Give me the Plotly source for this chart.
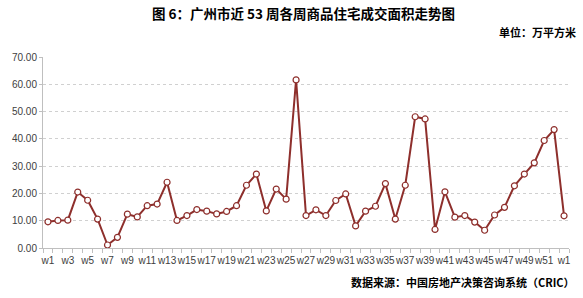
import plotly.graph_objects as go

weeks = ["w1", "w2", "w3", "w4", "w5", "w6", "w7", "w8", "w9", "w10",
         "w11", "w12", "w13", "w14", "w15", "w16", "w17", "w18", "w19", "w20",
         "w21", "w22", "w23", "w24", "w25", "w26", "w27", "w28", "w29", "w30",
         "w31", "w32", "w33", "w34", "w35", "w36", "w37", "w38", "w39", "w40",
         "w41", "w42", "w43", "w44", "w45", "w46", "w47", "w48", "w49", "w50",
         "w51", "w52", "w1"]
area = [9.6, 10.1, 10.2, 20.5, 17.5, 10.6, 1.1, 3.9, 12.4, 11.4,
        15.5, 16.1, 24.1, 10.1, 11.9, 14.1, 13.5, 12.5, 13.4, 15.5,
        23.0, 27.1, 13.6, 21.6, 17.9, 61.6, 11.9, 14.0, 11.9, 17.4,
        19.8, 8.1, 13.5, 15.3, 23.6, 10.6, 23.0, 48.1, 47.3, 6.8,
        20.6, 11.3, 11.9, 9.5, 6.5, 12.1, 14.9, 22.8, 27.1, 31.2,
        39.4, 43.4, 11.8]
y_ticks = [0, 10, 20, 30, 40, 50, 60, 70]

title_text = "图 6：广州市近 53 周各周商品住宅成交面积走势图"
unit_text = "单位：万平方米"
source_text = "数据来源：中国房地产决策咨询系统（CRIC）"

idx = list(range(len(area)))
line_color = "#8E2F2C"
cjk = "Noto Sans CJK SC"
latin = "Liberation Sans, Arial"

fig = go.Figure()
fig.add_trace(go.Scatter(
    x=idx, y=area, mode="lines+markers",
    line=dict(color=line_color, width=2),
    marker=dict(size=6, color="white", line=dict(color=line_color, width=1.2)),
    hoverinfo="x+y",
))

fig.update_layout(
    width=583, height=298,
    margin=dict(l=37, r=13, t=57, b=50),
    paper_bgcolor="white", plot_bgcolor="white",
    showlegend=False,
    font=dict(family=latin, size=10, color="#595959"),
    xaxis=dict(
        range=[-0.5, len(area) - 0.5],
        tickmode="array",
        tickvals=idx[::2],
        ticktext=weeks[::2],
        tickangle=0,
        ticks="", showgrid=False, zeroline=False,
        ticklabelstandoff=3,
        showline=True, linecolor="#BFBFBF", linewidth=1,
        tickfont=dict(family=latin, size=10, color="#404040"),
        minor=dict(tickmode="array",
                   tickvals=[i - 0.5 for i in range(len(area) + 1)],
                   ticks="outside", ticklen=4, tickcolor="#BFBFBF", showgrid=False),
    ),
    yaxis=dict(
        range=[0, 70], tickmode="array", tickvals=y_ticks,
        tickformat=".2f",
        showgrid=True, gridcolor="#D0D0D0", griddash="dot", gridwidth=1,
        zeroline=False, showline=True, linecolor="#BFBFBF", linewidth=1,
        ticks="outside", ticklen=3, tickcolor="#BFBFBF",
        tickfont=dict(family=latin, size=10, color="#404040"),
    ),
    annotations=[
        dict(text="<b>" + title_text + "</b>", xref="paper", yref="paper",
             x=0.5, y=1, xanchor="center", yanchor="middle",
             xshift=-3, yshift=57 - 13,
             showarrow=False, font=dict(family=cjk, size=13.5, color="#000000")),
        dict(text="<b>" + unit_text + "</b>", xref="paper", yref="paper",
             x=1, y=1, xanchor="right", yanchor="middle",
             xshift=9, yshift=57 - 32,
             showarrow=False, font=dict(family=cjk, size=11, color="#000000")),
        dict(text="<b>" + source_text + "</b>", xref="paper", yref="paper",
             x=1, y=0, xanchor="right", yanchor="middle",
             xshift=8, yshift=-(282 - 248),
             showarrow=False, font=dict(family=cjk, size=11, color="#000000")),
    ],
)

fig.write_html("out.html")
